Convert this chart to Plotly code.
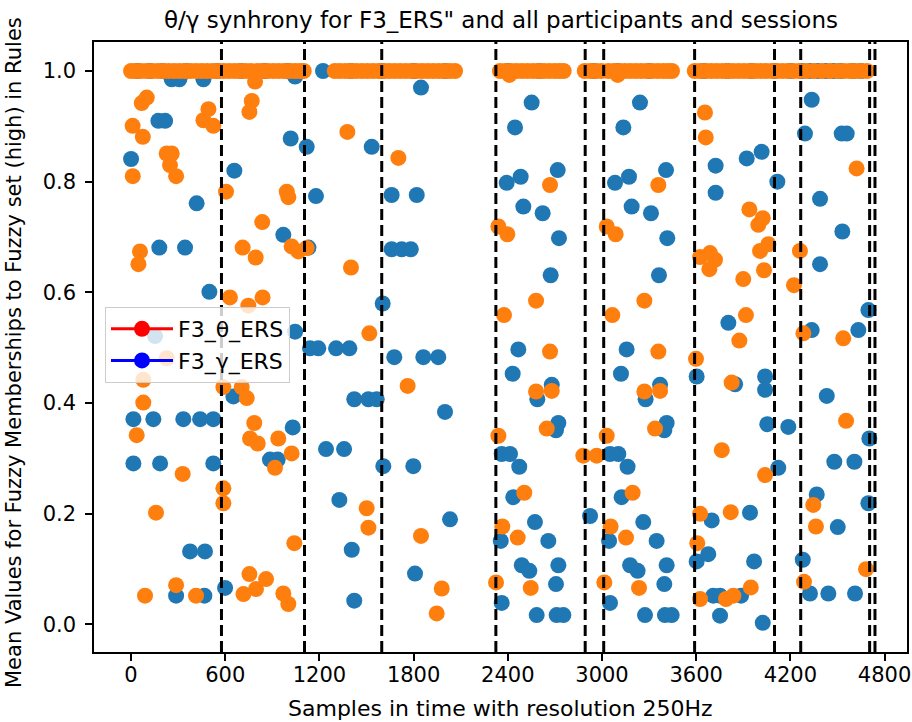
import plotly.graph_objects as go

# ---------------- data ----------------
gamma_x = [0, 15, 15, 142, 153, 174, 180, 185, 217, 259, 287, 308, 333, 344, 376, 418, 440, 461,
           467, 471, 499, 524, 524, 599, 652, 658, 885, 934, 970, 1017, 1030, 1045, 1045, 1119,
           1130, 1140, 1178, 1193, 1242, 1306, 1327, 1357, 1391, 1406, 1422, 1422, 1512, 1533,
           1565, 1603, 1607, 1660, 1660, 1677, 1724, 1782, 1798, 1809, 1820, 1847, 1862, 1957,
           2000, 2032,
           2355, 2361, 2361, 2393, 2414, 2431, 2435, 2446, 2467, 2473, 2482, 2489, 2499, 2537,
           2552, 2573, 2584, 2588, 2622, 2658, 2673, 2680, 2707, 2707, 2711, 2718, 2722, 2722,
           2726, 2754, 2924,
           3045, 3051, 3051, 3083, 3104, 3121, 3125, 3136, 3157, 3163, 3172, 3179, 3189, 3227,
           3242, 3263, 3274, 3278, 3312, 3348, 3363, 3370, 3397, 3397, 3401, 3408, 3412, 3412,
           3416, 3444,
           3603, 3603, 3677, 3699, 3709, 3724, 3724, 3752, 3752, 3805, 3848, 3886, 3922, 3943,
           3969, 4017, 4024, 4039, 4039, 4053, 4117, 4123, 4187,
           4279, 4293, 4325, 4336, 4336, 4368, 4389, 4389, 4432, 4442, 4480, 4502, 4527, 4531,
           4559, 4608, 4612, 4633, 4697, 4697, 4703]
gamma_y = [0.841, 0.371, 0.291, 0.371, 0.521, 0.910, 0.681, 0.291, 0.910, 0.985, 0.052, 0.985,
           0.371, 0.681, 0.132, 0.761, 0.371, 0.985, 0.052, 0.132, 0.601, 0.371, 0.291, 0.066,
           0.412, 0.820, 0.298, 0.298, 0.704, 0.878, 0.356, 0.990, 0.529, 0.863, 0.681, 0.499,
           0.774, 0.499, 0.317, 0.499, 0.225, 0.317, 0.499, 0.135, 0.407, 0.043, 0.407, 0.863,
           0.407, 0.580, 0.286, 0.776, 0.678, 0.483, 0.678, 0.678, 0.286, 0.092, 0.776, 0.970,
           0.483, 0.483, 0.384, 0.190,
           0.151, 0.308, 0.039, 0.798, 0.308, 0.453, 0.230, 0.898, 0.497, 0.285, 0.809, 0.107,
           0.755, 0.097, 0.943, 0.185, 0.017, 0.407, 0.743, 0.151, 0.631, 0.433, 0.351, 0.073,
           0.017, 0.821, 0.364, 0.107, 0.698, 0.017, 0.196,
           0.151, 0.308, 0.039, 0.798, 0.308, 0.453, 0.230, 0.898, 0.497, 0.285, 0.809, 0.107,
           0.755, 0.097, 0.943, 0.185, 0.017, 0.407, 0.743, 0.151, 0.631, 0.433, 0.351, 0.073,
           0.017, 0.821, 0.364, 0.107, 0.698, 0.017,
           0.448, 0.114, 0.127, 0.188, 0.052, 0.829, 0.780, 0.052, 0.016, 0.545, 0.434, 0.052,
           0.842, 0.202, 0.114, 0.854, 0.003, 0.448, 0.424, 0.362, 0.800, 0.283, 0.357,
           0.117, 0.887, 0.056, 0.948, 0.532, 0.235, 0.769, 0.651, 0.413, 0.056, 0.294, 0.176,
           0.887, 0.710, 0.887, 0.294, 0.056, 0.532, 0.568, 0.219, 0.336]
# samples where the gamma membership is 1.0 (mostly hidden behind theta)
gamma_full_x = [40, 120, 200, 350, 550, 700, 850, 1000, 1223, 1400, 1600, 1800, 2000, 2400,
                2600, 2950, 3100, 3300, 3650, 3800, 3950, 4100, 4200, 4275, 4325, 4375, 4425,
                4475, 4520, 4600, 4650]

theta_x = [10, 11, 36, 47, 57, 68, 75, 78, 78, 89, 100, 159, 227, 227, 248, 259, 287, 287, 329,
           414, 461, 493, 524,
           588, 588, 588, 605, 630, 705, 711, 716, 737, 747, 754, 754, 758, 769, 785, 790, 794,
           796, 807, 836, 838, 860, 917, 938, 970, 992, 1002, 1002, 1023, 1023, 1040, 1066, 1119,
           1378, 1401, 1501, 1512, 1518,
           1703, 1762, 1847, 1947, 1979,
           2325, 2340, 2340, 2365, 2376, 2397, 2410, 2463, 2505, 2546, 2580, 2580, 2648, 2669,
           2669, 2680, 2881, 2966,
           3015, 3030, 3030, 3055, 3066, 3087, 3100, 3153, 3195, 3236, 3270, 3270, 3338, 3359,
           3359, 3370,
           3599, 3607, 3625, 3625, 3625, 3656, 3661, 3684, 3688, 3720, 3763, 3790, 3820, 3826,
           3837, 3875, 3900, 3917, 3939, 3948, 3996, 4007, 4024, 4032, 4039, 4060,
           4223, 4261, 4283, 4287, 4346, 4363, 4537, 4555, 4622, 4682]
theta_y = [0.901, 0.810, 0.342, 0.651, 0.674, 0.942, 0.881, 0.442, 0.401, 0.052, 0.952, 0.202,
           0.851, 0.481, 0.830, 0.851, 0.810, 0.071, 0.272, 0.052, 0.911, 0.931, 0.901,
           0.429, 0.246, 0.219, 0.782, 0.591, 0.429, 0.681, 0.055, 0.409, 0.576, 0.926, 0.091,
           0.336, 0.946, 0.364, 0.981, 0.663, 0.064, 0.327, 0.727, 0.591, 0.082, 0.283, 0.336,
           0.056, 0.782, 0.772, 0.037, 0.683, 0.309, 0.147, 0.674, 0.680,
           0.890, 0.645, 0.210, 0.175, 0.526,
           0.843, 0.431, 0.160, 0.020, 0.065,
           0.076, 0.341, 0.719, 0.177, 0.559, 0.705, 0.993, 0.157, 0.238, 0.066, 0.585, 0.421,
           0.354, 0.794, 0.493, 0.422, 0.305, 0.305,
           0.076, 0.341, 0.719, 0.177, 0.559, 0.705, 0.993, 0.157, 0.238, 0.066, 0.585, 0.421,
           0.354, 0.794, 0.493, 0.422,
           0.480, 0.147, 0.664, 0.200, 0.046, 0.925, 0.880, 0.642, 0.671, 0.659, 0.315, 0.046,
           0.203, 0.437, 0.052, 0.513, 0.624, 0.559, 0.750, 0.067, 0.722, 0.675, 0.734, 0.640,
           0.270, 0.687,
           0.613, 0.675, 0.526, 0.077, 0.216, 0.177, 0.517, 0.368, 0.824, 0.100]
# samples where the theta membership is 1.0
theta_full_x = [0, 30, 65, 100, 135, 170, 205, 240, 275, 310, 345, 380, 415, 450, 485, 520, 555,
                590, 625, 660, 695, 730, 765, 805, 835, 870, 905, 940, 975, 1010, 1045, 1075, 1100,
                1298, 1330, 1365, 1400, 1435, 1470, 1505, 1540, 1575, 1610, 1645, 1680, 1715, 1750,
                1785, 1820, 1855, 1890, 1925, 1960, 1995, 2030, 2064,
                2350, 2385, 2420, 2455, 2490, 2525, 2560, 2595, 2630, 2665, 2700, 2730, 2756,
                2890, 2925, 2960, 2995, 3040, 3075, 3110, 3145, 3180, 3215, 3250, 3285, 3320, 3355,
                3390, 3420, 3446,
                3591, 3625, 3660, 3695, 3730, 3765, 3800, 3835, 3870, 3905, 3940, 3975, 4010, 4045,
                4080, 4115, 4150, 4185, 4220, 4255, 4300, 4350, 4400, 4450, 4500, 4540, 4575, 4610,
                4645, 4688]

session_bounds = [576, 1105, 1597, 2324, 2893, 3011, 3590, 4099, 4266, 4705, 4739]

x_ticks = [0, 600, 1200, 1800, 2400, 3000, 3600, 4200, 4800]
y_ticks = [0.0, 0.2, 0.4, 0.6, 0.8, 1.0]

title_text = 'θ/γ synhrony for F3_ERS" and all participants and sessions'
x_label = "Samples in time with resolution 250Hz"
y_label = "Mean Values for Fuzzy Memberships to Fuzzy set (high) in Rules"
legend_names = ["F3_θ_ERS", "F3_γ_ERS"]

# ---------------- figure ----------------
BLUE = "#1f77b4"
ORANGE = "#ff7f0e"
FONT = "DejaVu Sans"
MS = 16

fig = go.Figure()
fig.add_trace(go.Scatter(x=gamma_x + gamma_full_x, y=gamma_y + [1.0] * len(gamma_full_x),
                         mode="markers", marker=dict(color=BLUE, size=MS),
                         showlegend=False, hoverinfo="skip"))
fig.add_trace(go.Scatter(x=theta_x + theta_full_x, y=theta_y + [1.0] * len(theta_full_x),
                         mode="markers", marker=dict(color=ORANGE, size=MS),
                         showlegend=False, hoverinfo="skip"))
# legend entries (as in the original: red / blue line with marker)
fig.add_trace(go.Scatter(x=[None], y=[None], mode="lines+markers", name=legend_names[0],
                         line=dict(color="red", width=3), marker=dict(color="red", size=18)))
fig.add_trace(go.Scatter(x=[None], y=[None], mode="lines+markers", name=legend_names[1],
                         line=dict(color="blue", width=3), marker=dict(color="blue", size=18)))

for b in session_bounds:
    fig.add_shape(type="line", x0=b, x1=b, y0=0, y1=1, xref="x", yref="paper",
                  line=dict(color="black", width=3, dash="11px,5px"), layer="above")

axis_common = dict(showgrid=False, zeroline=False, showline=True, linecolor="black",
                   linewidth=1.5, mirror=True, ticks="outside", ticklen=7, tickwidth=1.5,
                   tickcolor="black", automargin=False,
                   tickfont=dict(family=FONT, size=21, color="black"))

fig.update_xaxes(range=[-236, 4943], tickvals=x_ticks, ticktext=[str(v) for v in x_ticks],
                 ticklabelstandoff=-4, **axis_common)
fig.update_yaxes(range=[-0.0497, 1.0524], tickvals=y_ticks,
                 ticktext=["%.1f" % v for v in y_ticks], ticklabelstandoff=5, **axis_common)

fig.add_annotation(text=title_text, xref="paper", yref="paper", x=0.5, y=(652 - 20) / 610,
                   xanchor="center", yanchor="middle", showarrow=False,
                   font=dict(family=FONT, size=23, color="black"))
fig.add_annotation(text=x_label, xref="paper", yref="paper", x=0.5, y=-(708 - 652) / 610,
                   xanchor="center", yanchor="middle", showarrow=False,
                   font=dict(family=FONT, size=22, color="black"))
fig.add_annotation(text=y_label, xref="paper", yref="paper", x=-(94 - 14) / 813,
                   y=0.5 - 6 / 610, xanchor="center", yanchor="middle", textangle=-90,
                   showarrow=False, font=dict(family=FONT, size=21, color="black"))

fig.update_layout(
    width=912, height=722,
    margin=dict(l=94, r=5, t=42, b=70, autoexpand=False),
    paper_bgcolor="white", plot_bgcolor="white",
    font=dict(family=FONT, size=21, color="black"),
    legend=dict(x=(105 - 94) / 813, y=(652 - 307) / 610, xanchor="left", yanchor="top",
                bgcolor="rgba(255,255,255,0.8)", bordercolor="#cccccc", borderwidth=1,
                font=dict(family=FONT, size=22, color="black"), itemwidth=62,
                tracegroupgap=0),
)

fig.write_html("out.html", config={"displayModeBar": False},
               post_script="document.body.style.margin='0px';document.body.style.padding='0px';")
